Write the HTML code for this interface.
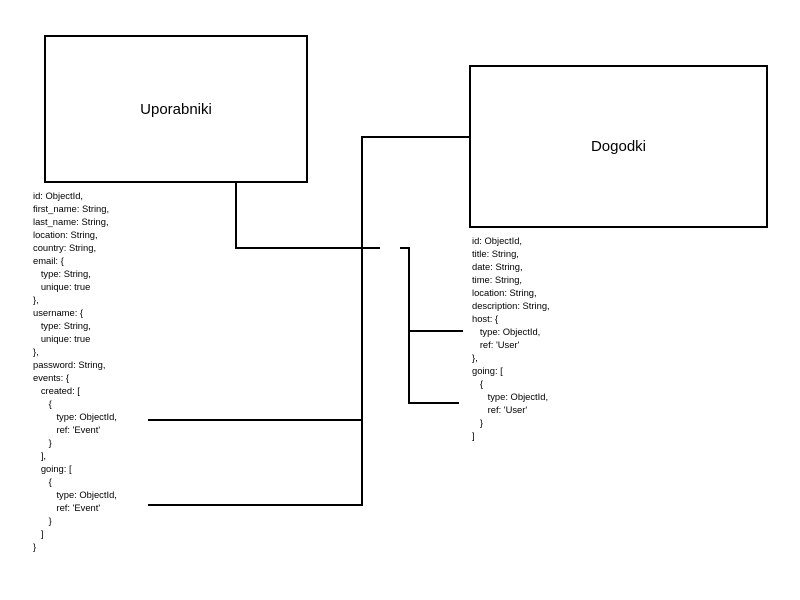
<!DOCTYPE html>
<html><head><style>
body{margin:0;width:800px;height:600px;background:#fff;position:relative;overflow:hidden;font-family:"Liberation Sans",sans-serif}
.box{position:absolute;border:2px solid #000;box-sizing:border-box;display:flex;align-items:center;justify-content:center;font-size:15px}
pre{position:absolute;margin:0;font-family:"Liberation Sans",sans-serif;font-size:9.4px;line-height:13px;color:#000}
</style></head><body>
<div class="box" style="left:44px;top:35px;width:264px;height:148px">Uporabniki</div>
<div class="box" style="left:469px;top:65px;width:299px;height:163px">Dogodki</div>
<svg width="800" height="600" style="position:absolute;left:0;top:0">
<g stroke="#000" stroke-width="2" fill="none">
<polyline points="236,182 236,248 380,248"/>
<polyline points="400,248 409,248 409,403 459,403"/>
<line x1="409" y1="331" x2="463" y2="331"/>
<polyline points="470,137 362,137 362,505 148,505"/>
<line x1="148" y1="420" x2="362" y2="420"/>
</g></svg>
<pre style="left:33px;top:189px">id: ObjectId,
first_name: String,
last_name: String,
location: String,
country: String,
email: {
   type: String,
   unique: true
},
username: {
   type: String,
   unique: true
},
password: String,
events: {
   created: [
      {
         type: ObjectId,
         ref: 'Event'
      }
   ],
   going: [
      {
         type: ObjectId,
         ref: 'Event'
      }
   ]
}</pre>
<pre style="left:472px;top:234px">id: ObjectId,
title: String,
date: String,
time: String,
location: String,
description: String,
host: {
   type: ObjectId,
   ref: 'User'
},
going: [
   {
      type: ObjectId,
      ref: 'User'
   }
]</pre>
</body></html>
